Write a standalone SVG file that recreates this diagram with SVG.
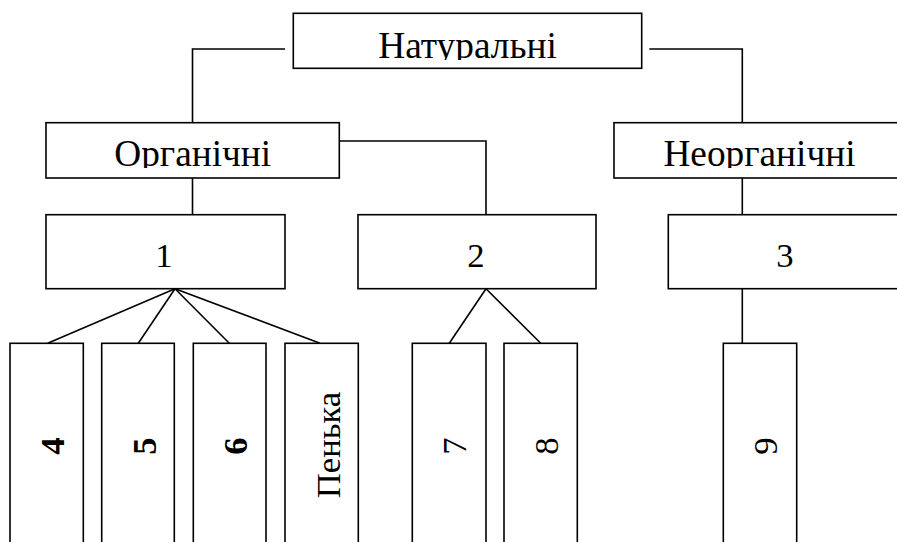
<svg xmlns="http://www.w3.org/2000/svg" width="897" height="542" viewBox="0 0 897 542">
  <style>
    .box { fill: #ffffff; stroke: #000000; stroke-width: 1.6; }
    .link { fill: none; stroke: #000000; stroke-width: 1.6; }
    .head { font-family: "Liberation Serif", "Times New Roman", serif; font-size: 37.33px; fill: #000000; text-anchor: middle; }
    .num { font-family: "Liberation Serif", "Times New Roman", serif; font-size: 34.67px; fill: #000000; text-anchor: middle; }
    .bold { font-weight: bold; }
  </style>
  <defs>
    <!-- text frames cut off descenders just under the baseline -->
    <clipPath id="clipTop"><rect x="293" y="13" width="349" height="47"/></clipPath>
    <clipPath id="clipMid"><rect x="0" y="122" width="897" height="46"/></clipPath>
  </defs>

  <rect width="897" height="542" fill="#ffffff"/>

  <g id="connectors">
    <polyline class="link" points="285,49 192.5,49 192.5,122.7"/>
    <polyline class="link" points="649.3,49 742.3,49 742.3,122.7"/>
    <line class="link" x1="192.5" y1="178" x2="192.5" y2="214.7"/>
    <polyline class="link" points="339.3,141 486,141 486,214.7"/>
    <line class="link" x1="742.3" y1="178" x2="742.3" y2="214.7"/>
    <line class="link" x1="175" y1="288.7" x2="47.7" y2="343.3"/>
    <line class="link" x1="175" y1="288.7" x2="138.3" y2="343.3"/>
    <line class="link" x1="175" y1="288.7" x2="229.3" y2="343.3"/>
    <line class="link" x1="175" y1="288.7" x2="320" y2="343.3"/>
    <line class="link" x1="486" y1="288.7" x2="449.3" y2="343.3"/>
    <line class="link" x1="486" y1="288.7" x2="540.7" y2="343.3"/>
    <line class="link" x1="742.3" y1="288.7" x2="742.3" y2="343.3"/>
  </g>

  <g id="natural">
    <rect class="box" x="293.3" y="13.3" width="348.4" height="55"/>
    <text class="head" x="467.5" y="58" clip-path="url(#clipTop)">Натуральні</text>
  </g>
  <g id="organic">
    <rect class="box" x="46" y="122.7" width="293.3" height="55.3"/>
    <text class="head" x="192.7" y="166" clip-path="url(#clipMid)">Органічні</text>
  </g>
  <g id="inorganic">
    <rect class="box" x="614" y="122.7" width="300" height="55.3"/>
    <text class="head" x="759.5" y="166" clip-path="url(#clipMid)">Неорганічні</text>
  </g>

  <g id="n1">
    <rect class="box" x="46" y="214.7" width="239" height="74"/>
    <text class="num" x="164" y="267">1</text>
  </g>
  <g id="n2">
    <rect class="box" x="358" y="214.7" width="238" height="74"/>
    <text class="num" x="476" y="267">2</text>
  </g>
  <g id="n3">
    <rect class="box" x="668.3" y="214.7" width="250" height="74"/>
    <text class="num" x="785" y="267">3</text>
  </g>

  <g id="n4">
    <rect class="box" x="10" y="343.3" width="73.3" height="220"/>
    <text class="num bold" transform="translate(64,446) rotate(-90)">4</text>
  </g>
  <g id="n5">
    <rect class="box" x="101.7" y="343.3" width="72.6" height="220"/>
    <text class="num bold" transform="translate(155.7,446) rotate(-90)">5</text>
  </g>
  <g id="n6">
    <rect class="box" x="193.3" y="343.3" width="72.7" height="220"/>
    <text class="num bold" transform="translate(247.3,446) rotate(-90)">6</text>
  </g>
  <g id="hemp">
    <rect class="box" x="285" y="343.3" width="73.3" height="220"/>
    <text class="num" transform="translate(340,445) rotate(-90)">Пенька</text>
  </g>
  <g id="n7">
    <rect class="box" x="412.3" y="343.3" width="73.7" height="220"/>
    <text class="num" transform="translate(466.3,446) rotate(-90)">7</text>
  </g>
  <g id="n8">
    <rect class="box" x="504" y="343.3" width="73.3" height="220"/>
    <text class="num" transform="translate(558,446) rotate(-90)">8</text>
  </g>
  <g id="n9">
    <rect class="box" x="723.3" y="343.3" width="73.4" height="220"/>
    <text class="num" transform="translate(777.3,446) rotate(-90)">9</text>
  </g>
</svg>
